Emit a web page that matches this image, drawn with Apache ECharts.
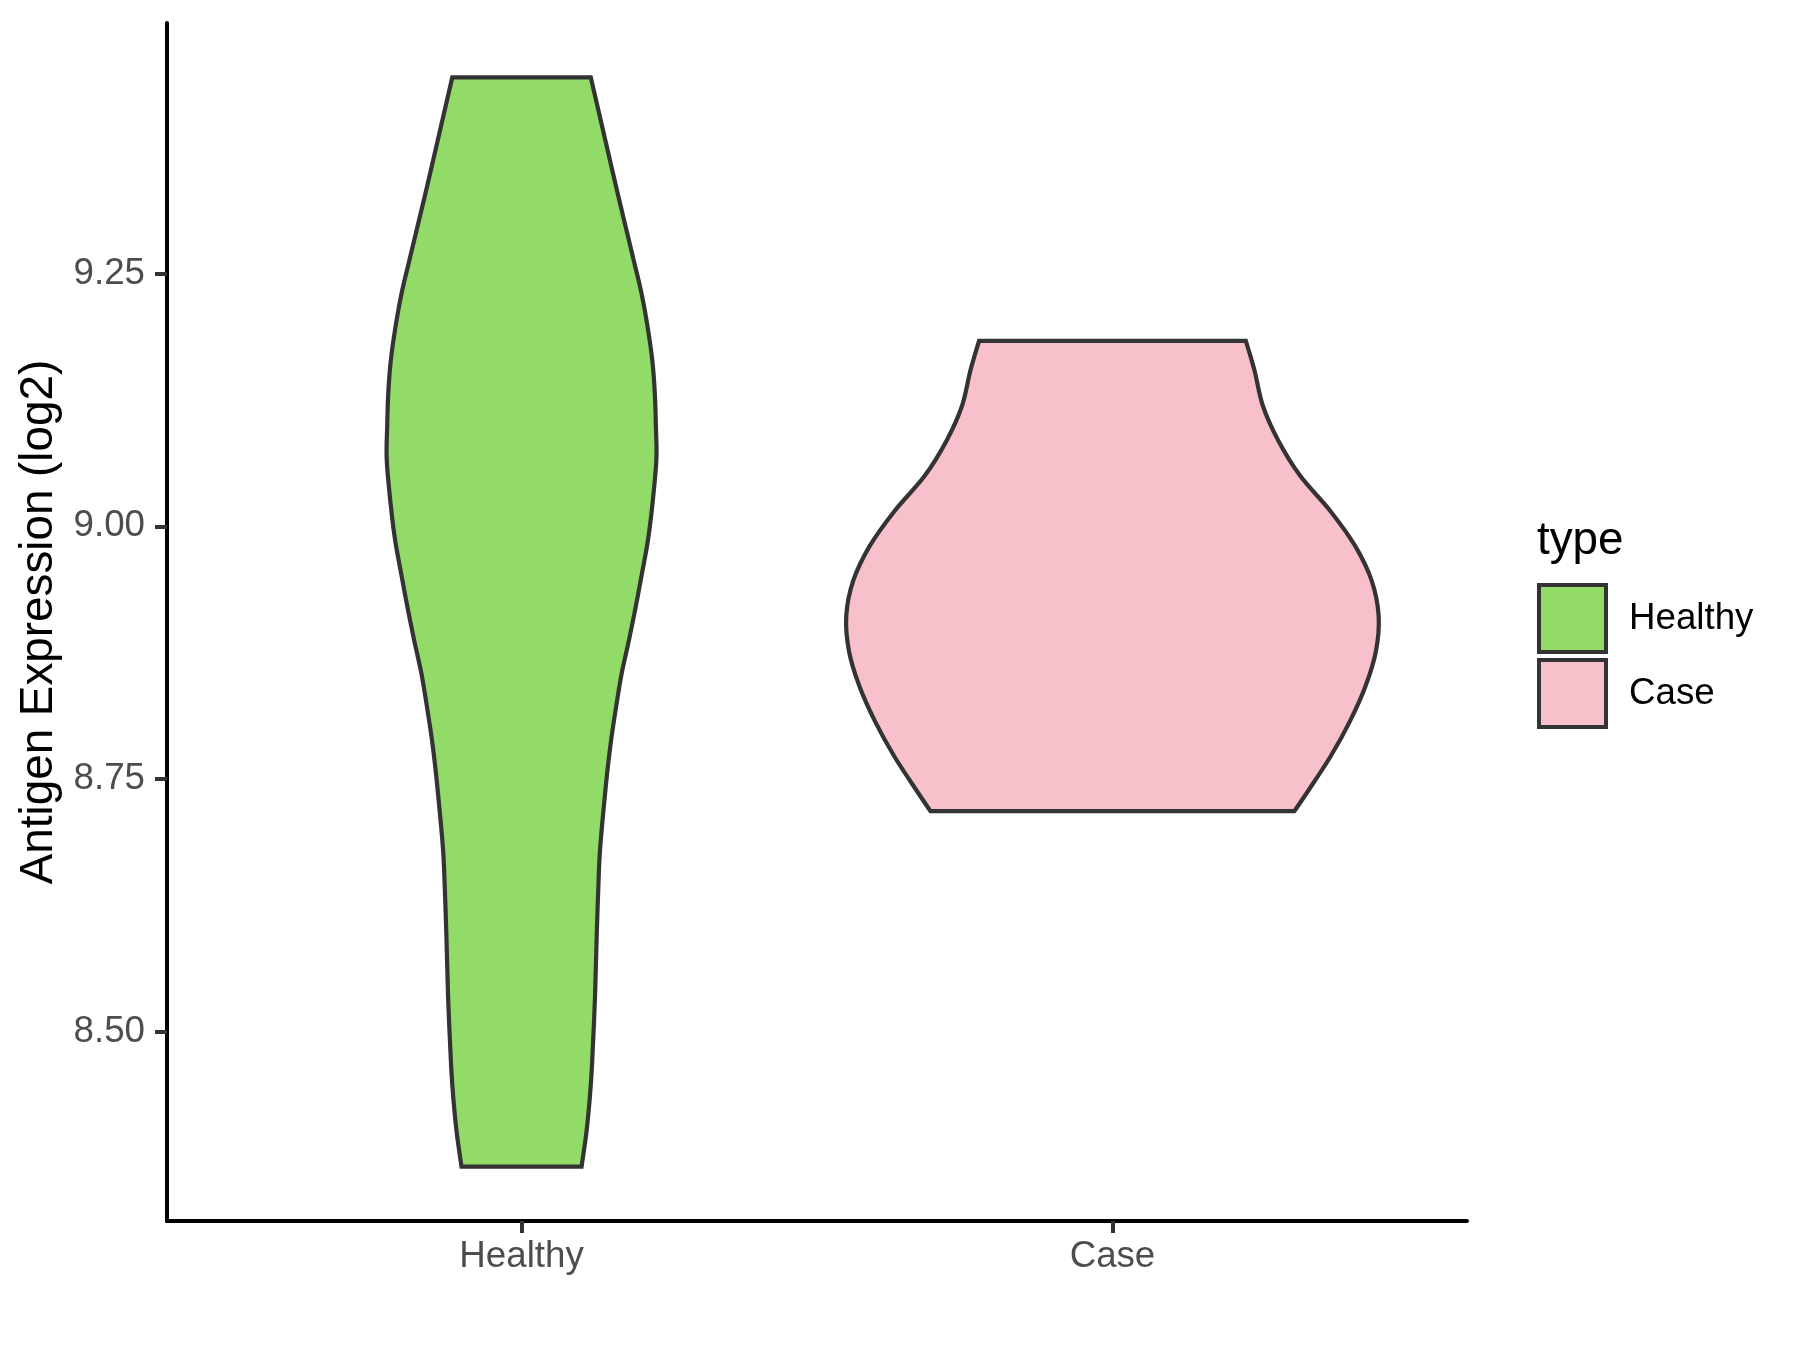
<!DOCTYPE html>
<html><head><meta charset="utf-8">
<script src="https://cdn.jsdelivr.net/npm/echarts@6/dist/echarts.min.js"></script>
<style>html,body{margin:0;padding:0;background:#fff}#c{width:1800px;height:1350px}</style>
</head><body><div id="c"></div>
<script>
// ---- data ----
const categories = ['Healthy', 'Case'];
const yTicks = [8.5, 8.75, 9.0, 9.25];
// violin outline: y value and half-width (in category units), top -> bottom
const healthyY = [9.4437, 9.3943, 9.3285, 9.2626, 9.2297, 9.1968, 9.1639, 9.1310, 9.0980, 9.0651, 9.0190, 8.9861, 8.9532, 8.9202, 8.8873, 8.8544, 8.8214, 8.7887, 8.7556, 8.7226, 8.6898, 8.6634, 8.5976, 8.5317, 8.4658, 8.4330, 8.4000, 8.3671];
const healthyHalfWidth = [0.1172, 0.1368, 0.1629, 0.1900, 0.2032, 0.2134, 0.2213, 0.2256, 0.2274, 0.2281, 0.2210, 0.2139, 0.2037, 0.1931, 0.1817, 0.1694, 0.1600, 0.1516, 0.1448, 0.1392, 0.1341, 0.1312, 0.1273, 0.1241, 0.1191, 0.1152, 0.1096, 0.1016];
const caseY = [9.1833, 9.1538, 9.1192, 9.0846, 9.0499, 9.0152, 8.9806, 8.9460, 8.9113, 8.8767, 8.8421, 8.8074, 8.7727, 8.7381, 8.7184];
const caseHalfWidth = [0.2257, 0.2405, 0.2545, 0.2808, 0.3177, 0.3687, 0.4107, 0.4388, 0.4505, 0.4459, 0.4283, 0.4020, 0.3693, 0.3307, 0.3079];

const colors = { Healthy: '#93DB69', Case: '#F8C0CB' };
const outlines = { Healthy: [healthyY, healthyHalfWidth], Case: [caseY, caseHalfWidth] };
const FONT = '"Liberation Sans", Arial, Helvetica, sans-serif';

// y range: data range expanded by 5% each side (ggplot default)
const allY = healthyY.concat(caseY);
const yLo = Math.min(...allY), yHi = Math.max(...allY);
const yPad = (yHi - yLo) * 0.05;

function curveThrough(pts, startWithMove) {
  let d = (startWithMove ? 'M' : 'L') + pts[0][0] + ' ' + pts[0][1];
  const n = pts.length;
  for (let i = 0; i < n - 1; i++) {
    const p0 = pts[Math.max(0, i - 1)], p1 = pts[i], p2 = pts[i + 1], p3 = pts[Math.min(n - 1, i + 2)];
    const c1x = p1[0] + (p2[0] - p0[0]) / 6, c1y = p1[1] + (p2[1] - p0[1]) / 6;
    const c2x = p2[0] - (p3[0] - p1[0]) / 6, c2y = p2[1] - (p3[1] - p1[1]) / 6;
    d += ' C' + c1x + ' ' + c1y + ' ' + c2x + ' ' + c2y + ' ' + p2[0] + ' ' + p2[1];
  }
  return d;
}

function makeSeries(name, k) {
  const ys = outlines[name][0], hws = outlines[name][1];
  const cx = k + 1;
  return {
    type: 'custom',
    name: name,
    itemStyle: { color: colors[name] },
    encode: { x: 0, y: 1 },
    data: ys.map((y, i) => [cx, y, hws[i]]),
    renderItem: function (params, api) {
      if (params.dataIndex !== 0) return { type: 'group', children: [] };
      const right = ys.map((y, i) => api.coord([cx + hws[i], y]));
      const left = ys.map((y, i) => api.coord([cx - hws[i], y])).reverse();
      const pathData = curveThrough(right, true) + ' ' + curveThrough(left, false) + ' Z';
      return {
        type: 'path',
        shape: { pathData: pathData },
        style: { fill: colors[name], stroke: '#333333', lineWidth: 4.2, lineJoin: 'miter' }
      };
    },
    silent: true
  };
}

const chart = echarts.init(document.getElementById('c'), null, { renderer: 'canvas' });
chart.setOption({
  backgroundColor: '#ffffff',
  animation: false,
  grid: { left: 167, right: 333, top: 23, bottom: 129, containLabel: false },
  xAxis: {
    type: 'value', min: 0.4, max: 2.6,
    splitLine: { show: false },
    axisLine: { show: true, lineStyle: { color: '#000', width: 4 } },
    axisTick: { show: true, customValues: [1, 2], length: 12, lineStyle: { color: '#333', width: 4 } },
    axisLabel: { show: true, customValues: [1, 2], margin: 17,
      formatter: v => categories[Math.round(v) - 1] || '',
      fontFamily: FONT, fontSize: 36.7, color: '#4D4D4D' }
  },
  yAxis: {
    type: 'value', min: yLo - yPad, max: yHi + yPad,
    splitLine: { show: false },
    axisLine: { show: true, lineStyle: { color: '#000', width: 4 } },
    axisTick: { show: true, customValues: yTicks, length: 12, lineStyle: { color: '#333', width: 4 } },
    axisLabel: { show: true, customValues: yTicks, margin: 22,
      formatter: v => v.toFixed(2),
      fontFamily: FONT, fontSize: 36.7, color: '#4D4D4D' },
    name: 'Antigen Expression (log2)',
    nameLocation: 'middle', nameRotate: 90, nameGap: 102,
    nameTextStyle: { fontFamily: FONT, fontSize: 45.8, color: '#000' }
  },
  legend: {
    orient: 'vertical', left: 1537, top: 583, padding: 0,
    itemWidth: 67, itemHeight: 67, itemGap: 4, icon: 'rect', selectedMode: false,
    data: categories.map(n => ({ name: n, itemStyle: { color: colors[n], borderColor: '#333333', borderWidth: 4 } })),
    textStyle: { fontFamily: FONT, fontSize: 36.7, color: '#000', padding: [0, 0, 0, 18] }
  },
  graphic: [{
    type: 'text', left: 1537, top: 518,
    style: { text: 'type', font: '45.8px ' + FONT, fill: '#000' }
  }],
  series: categories.map(makeSeries)
});
</script></body></html>
